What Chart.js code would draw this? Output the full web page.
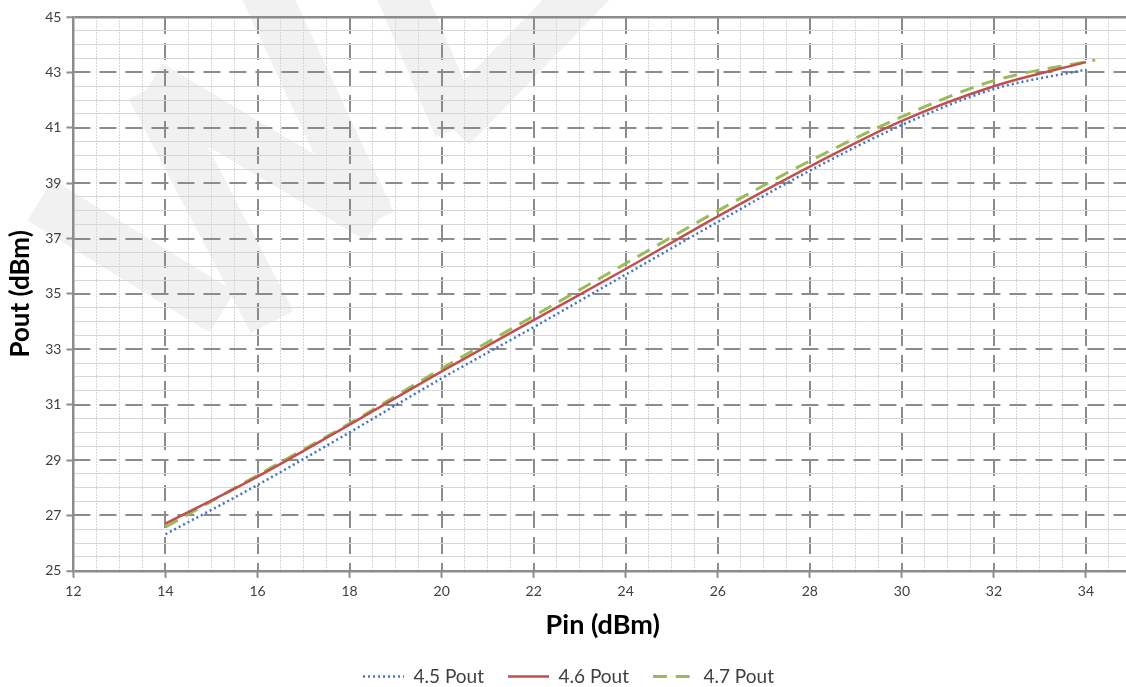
<!DOCTYPE html>
<html>
<head>
<meta charset="utf-8">
<script src="https://cdn.jsdelivr.net/npm/chart.js@4.4.1/dist/chart.umd.min.js"></script>
<style>
  html, body { margin: 0; padding: 0; background: #fff; overflow: hidden; }
  #wrap { width: 1145px; height: 696px; position: relative; }
</style>
</head>
<body>
<div id="wrap"><canvas id="chart"></canvas></div>
<script>
const FONT = 'Lato, "Liberation Sans", sans-serif';

// data
const pin = [14, 16, 18, 20, 22, 24, 26, 28, 30, 32, 34];
const pinGreen = [14, 16, 18, 20, 22, 24, 26, 28, 30, 32, 34.2];
const pout45 = [26.32, 28.1, 30.0, 31.95, 33.8, 35.7, 37.6, 39.45, 41.1, 42.4, 43.1];
const pout46 = [26.7, 28.4, 30.28, 32.2, 34.05, 35.9, 37.8, 39.6, 41.25, 42.5, 43.37];
const pout47 = [26.58, 28.45, 30.32, 32.3, 34.2, 36.1, 38.0, 39.8, 41.4, 42.7, 43.45];

const xTicks = [12, 14, 16, 18, 20, 22, 24, 26, 28, 30, 32, 34];
const yTicks = [25, 27, 29, 31, 33, 35, 37, 39, 41, 43, 45];

const xMinor = [];
for (let v = 12; v <= 35; v += 0.5) xMinor.push(v);
const yMinor = [];
for (let v = 25; v <= 45; v += 0.5) yMinor.push(v);

const AXIS = '#8c8c8c';
const MINOR = '#d6d6d6';
const NONE = 'rgba(0,0,0,0)';

function pts(xs, ys) {
  return xs.map((x, i) => ({ x: x, y: ys[i] }));
}

const tv = c => (c.tick ? c.tick.value : null);

// faint background logo, just decoration
const logoStrokes = [
  [40, 200, 222, 312],
  [150, 88, 272, 322],
  [150, 84, 378, 220],
  [255, -30, 372, 222],
  [395, -20, 458, 128],
  [452, 128, 600, -25]
];

const watermark = {
  id: 'watermark',
  beforeDraw(chart) {
    const ctx = chart.ctx;
    ctx.save();
    ctx.fillStyle = '#fff';
    ctx.fillRect(0, 0, chart.width, chart.height);
    ctx.strokeStyle = '#f1f1f1';
    ctx.lineWidth = 48;
    ctx.lineCap = 'butt';
    logoStrokes.forEach(s => {
      ctx.beginPath();
      ctx.moveTo(s[0], s[1]);
      ctx.lineTo(s[2], s[3]);
      ctx.stroke();
    });
    ctx.restore();
  }
};

// dash lengths picked so the flat legend box repeats the same pattern both ways
new Chart(document.getElementById('chart'), {
  type: 'line',
  data: {
    datasets: [{
      label: '4.5 Pout',
      data: pts(pin, pout45),
      borderColor: 'rgb(68,114,196)',
      backgroundColor: NONE,
      borderWidth: 2.5,
      borderDash: [2, 3],
      pointRadius: 0,
      cubicInterpolationMode: 'monotone'
    }, {
      label: '4.6 Pout',
      data: pts(pin, pout46),
      borderColor: 'rgb(192,80,77)',
      backgroundColor: NONE,
      borderWidth: 2.5,
      pointRadius: 0,
      cubicInterpolationMode: 'monotone'
    }, {
      label: '4.7 Pout',
      data: pts(pinGreen, pout47),
      borderColor: 'rgb(155,187,89)',
      backgroundColor: NONE,
      borderWidth: 3,
      borderDash: [14, 8.667],
      pointRadius: 0,
      cubicInterpolationMode: 'monotone'
    }]
  },
  options: {
    responsive: true,
    maintainAspectRatio: false,
    animation: false,
    layout: { padding: { top: 17, left: 5, right: 13, bottom: 0 } },
    plugins: {
      tooltip: { enabled: false },
      legend: {
        position: 'bottom',
        labels: {
          boxWidth: 41,
          boxHeight: 0,
          padding: 24,
          color: '#404040',
          font: { size: 19, family: FONT }
        }
      }
    },
    scales: {
      x: {
        type: 'linear', min: 12, max: 35, position: 'bottom',
        afterBuildTicks: s => { s.ticks = xMinor.map(v => ({ value: v })); },
        ticks: {
          autoSkip: false, maxRotation: 0, color: '#404040', padding: 5,
          font: { size: 14, family: FONT },
          callback: v => (xTicks.includes(v) ? String(v) : '')
        },
        grid: {
          color: c => (xTicks.includes(tv(c)) ? NONE : MINOR),
          lineWidth: 1,
          tickLength: 7,
          tickWidth: 2,
          tickColor: c => (xTicks.includes(tv(c)) ? AXIS : NONE)
        },
        border: { display: false, dash: [2, 1] },
        title: {
          display: true, text: 'Pin (dBm)', color: '#000',
          font: { size: 27, weight: 'bold', family: FONT },
          padding: { top: 4, bottom: 2 }
        }
      },
      xMaj: {
        type: 'linear', min: 12, max: 35, position: 'top',
        afterBuildTicks: s => { s.ticks = xTicks.filter(v => v !== 12).map(v => ({ value: v })); },
        ticks: { display: false },
        grid: { color: AXIS, lineWidth: 2, drawTicks: false },
        border: { display: false, dash: [17, 9] }
      },
      y: {
        type: 'linear', min: 25, max: 45, position: 'left',
        afterBuildTicks: s => { s.ticks = yMinor.map(v => ({ value: v })); },
        ticks: {
          autoSkip: false, color: '#404040', padding: 5,
          font: { size: 14, family: FONT },
          callback: v => (yTicks.includes(v) ? String(v) : '')
        },
        grid: {
          color: c => (tv(c) === 25 || tv(c) === 45 ? AXIS : yTicks.includes(tv(c)) ? NONE : MINOR),
          lineWidth: c => (tv(c) === 25 || tv(c) === 45 ? 2.5 : 1),
          tickLength: 7,
          tickWidth: 2,
          tickColor: c => (yTicks.includes(tv(c)) ? AXIS : NONE)
        },
        border: { display: true, color: AXIS, width: 2.5 },
        title: {
          display: true, text: 'Pout (dBm)', color: '#000',
          font: { size: 26, weight: 'bold', family: FONT },
          padding: { top: 0, bottom: 4 }
        }
      },
      yMaj: {
        type: 'linear', min: 25, max: 45, position: 'right',
        afterBuildTicks: s => { s.ticks = yTicks.filter(v => v !== 25 && v !== 45).map(v => ({ value: v })); },
        ticks: { display: false },
        grid: { color: AXIS, lineWidth: 2, drawTicks: false },
        border: { display: false, dash: [17, 9] }
      }
    }
  },
  plugins: [watermark]
});
</script>
</body>
</html>
